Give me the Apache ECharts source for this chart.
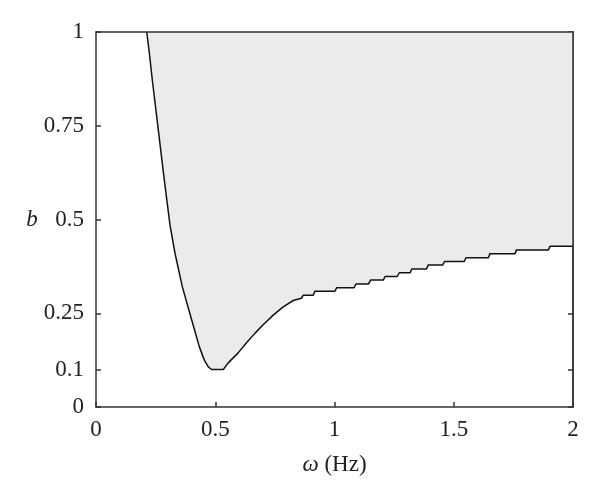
<!DOCTYPE html>
<html>
<head>
<meta charset="utf-8">
<script src="https://cdn.jsdelivr.net/npm/echarts@6/dist/echarts.min.js"></script>
<style>html,body{margin:0;padding:0;background:#fff}#c{width:600px;height:498px}</style>
</head>
<body>
<div id="c"></div>
<script>
const omega = [0.2126, 0.2222, 0.2361, 0.2612, 0.2864, 0.3103, 0.3312, 0.3618, 0.4013, 0.4331, 0.4541, 0.4709, 0.4851, 0.5338, 0.5535, 0.597, 0.632, 0.667, 0.702, 0.743, 0.785, 0.827, 0.861, 0.869,
  0.911, 0.918, 1.002, 1.009, 1.082, 1.090, 1.142, 1.152, 1.205, 1.212, 1.263, 1.272, 1.317, 1.324, 1.386, 1.393, 1.454, 1.461, 1.544, 1.551, 1.645, 1.652, 1.757, 1.763, 1.897, 1.904, 2.0];
const bValues = [1, 0.952, 0.872, 0.739, 0.605, 0.485, 0.410, 0.321, 0.232, 0.161, 0.125, 0.107, 0.1, 0.1, 0.117, 0.145, 0.172, 0.197, 0.220, 0.245, 0.267, 0.284, 0.290, 0.298,
  0.298, 0.309, 0.309, 0.318, 0.318, 0.328, 0.328, 0.339, 0.339, 0.348, 0.348, 0.358, 0.358, 0.368, 0.368, 0.379, 0.379, 0.388, 0.388, 0.398, 0.398, 0.409, 0.409, 0.419, 0.419, 0.429, 0.429];
const xTicks = [0, 0.5, 1, 1.5, 2];
const yTicks = [0, 0.1, 0.25, 0.5, 0.75, 1];

const font = '"Liberation Serif", "Times New Roman", serif';
const axCol = '#333';
const fs = 23;
const chart = echarts.init(document.getElementById('c'), null, {renderer: 'canvas'});

chart.setOption({
  animation: false,
  grid: {left: 96, right: 27, top: 32, bottom: 91},
  xAxis: [{
    type: 'value', min: 0, max: 2, interval: 0.5, position: 'bottom',
    name: '{i|ω} (Hz)', nameLocation: 'middle', nameGap: 46,
    nameTextStyle: {fontFamily: font, fontSize: fs, color: '#222', rich: {i: {fontFamily: font, fontStyle: 'italic', fontSize: fs, color: '#222'}}},
    axisLine: {show: true, lineStyle: {color: axCol, width: 1.5}},
    axisTick: {show: true, inside: true, length: 5, lineStyle: {color: axCol, width: 1.5}},
    axisLabel: {fontFamily: font, fontSize: fs, color: '#222', margin: 11, formatter: v => xTicks.indexOf(v) >= 0 ? String(v) : ''},
    splitLine: {show: false}, z: 0
  }, {
    type: 'value', min: 0, max: 2, position: 'top',
    axisLine: {show: true, onZero: false, lineStyle: {color: axCol, width: 1.5}},
    axisTick: {show: false}, axisLabel: {show: false}, splitLine: {show: false}, z: 10
  }],
  yAxis: [{
    type: 'value', min: 0, max: 1, position: 'left',
    name: 'b', nameLocation: 'middle', nameGap: 58, nameRotate: 0,
    nameTextStyle: {fontFamily: font, fontStyle: 'italic', fontSize: fs, color: '#222'},
    axisLine: {show: true, onZero: false, lineStyle: {color: axCol, width: 1.5}},
    axisTick: {show: true, inside: true, length: 5, customValues: yTicks, lineStyle: {color: axCol, width: 1.5}},
    axisLabel: {fontFamily: font, fontSize: fs, color: '#222', margin: 12, customValues: yTicks, formatter: v => String(v)},
    splitLine: {show: false}, z: 0
  }, {
    type: 'value', min: 0, max: 1, position: 'right',
    axisLine: {show: true, onZero: false, lineStyle: {color: axCol, width: 1.5}},
    axisTick: {show: true, inside: true, length: 5, customValues: yTicks, lineStyle: {color: axCol, width: 1.5}},
    axisLabel: {show: false}, splitLine: {show: false}, z: 0
  }, {
    type: 'value', min: 0, max: 1, position: 'right',
    axisLine: {show: true, onZero: false, lineStyle: {color: axCol, width: 1.5}},
    axisTick: {show: false}, axisLabel: {show: false}, splitLine: {show: false}, z: 10
  }],
  series: [{
    type: 'line', xAxisIndex: 0, yAxisIndex: 0,
    data: omega.map((w, i) => [w, bValues[i]]),
    showSymbol: false, symbol: 'none',
    lineStyle: {color: '#111', width: 1.5},
    areaStyle: {origin: 'end', color: '#ebebeb', opacity: 1},
    z: 2
  }]
});
</script>
</body>
</html>
